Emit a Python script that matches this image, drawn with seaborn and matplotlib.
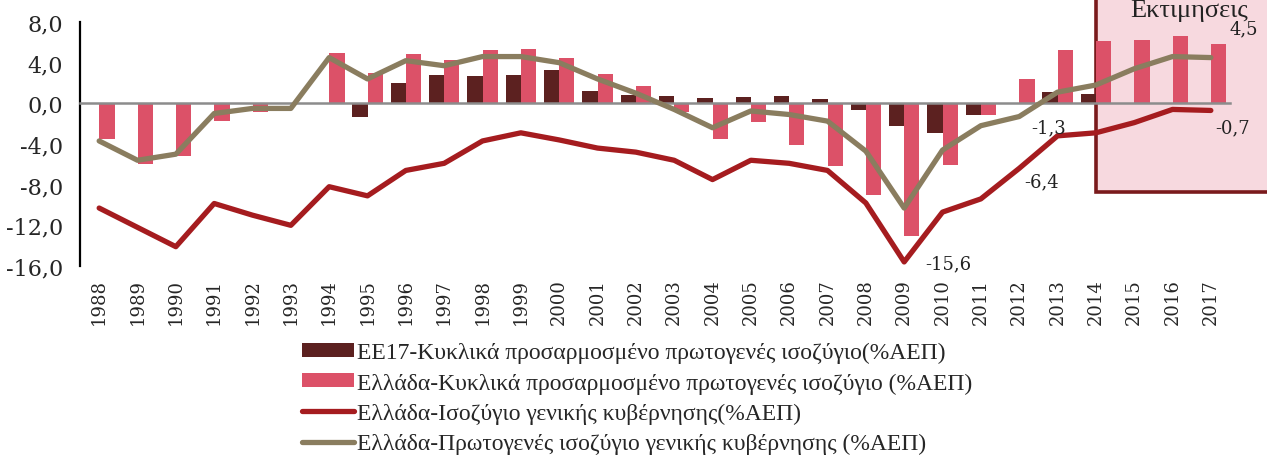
import numpy as np
import pandas as pd
import matplotlib
matplotlib.use("Agg")
import matplotlib.pyplot as plt
from matplotlib.patches import Rectangle
import seaborn as sns

years = list(range(1988, 2018))
year_labels = [str(y) for y in years]

eu17_capb = [np.nan, np.nan, np.nan, np.nan, np.nan, np.nan, np.nan,
             -1.35, 2.0, 2.8, 2.7, 2.75, 3.3, 1.2, 0.8, 0.7, 0.5, 0.6, 0.7, 0.45,
             -0.65, -2.25, -2.9, -1.15, -0.1, 1.1, 0.9, np.nan, np.nan, np.nan]
greece_capb = [-3.5, -6.0, -5.2, -1.75, -0.85, 0.0, 5.0, 3.0, 4.9, 4.3,
               5.25, 5.3, 4.45, 2.9, 1.7, -0.9, -3.5, -1.85, -4.05, -6.15,
               -9.0, -13.0, -6.05, -1.15, 2.4, 5.2, 6.1, 6.2, 6.6, 5.8]
greece_balance = [-10.3, -12.2, -14.1, -9.85, -11.0, -12.0, -8.2, -9.1, -6.6, -5.9,
                  -3.7, -2.9, -3.6, -4.4, -4.8, -5.6, -7.5, -5.6, -5.9, -6.6,
                  -9.8, -15.6, -10.7, -9.4, -6.4, -3.2, -2.9, -1.9, -0.6, -0.7]
greece_primary = [-3.7, -5.6, -5.0, -1.0, -0.5, -0.5, 4.5, 2.4, 4.2, 3.7,
                  4.6, 4.6, 4.0, 2.4, 1.0, -0.6, -2.4, -0.75, -1.1, -1.75,
                  -4.7, -10.3, -4.6, -2.2, -1.3, 1.1, 1.8, 3.4, 4.6, 4.5]

series_names = ["ΕΕ17-Κυκλικά προσαρμοσμένο πρωτογενές ισοζύγιο(%ΑΕΠ)",
                "Ελλάδα-Κυκλικά προσαρμοσμένο πρωτογενές ισοζύγιο (%ΑΕΠ)",
                "Ελλάδα-Ισοζύγιο γενικής κυβέρνησης(%ΑΕΠ)",
                "Ελλάδα-Πρωτογενές ισοζύγιο γενικής κυβέρνησης (%ΑΕΠ)"]
yticks = [-16, -12, -8, -4, 0, 4, 8]
ytick_labels = ["-16,0", "-12,0", "-8,0", "-4,0", "0,0", "4,0", "8,0"]
estimate_label = "Εκτιμησεις"
estimate_start = 2014
estimate_bottom = -8.7
point_labels = [  # (series, year, text, dx_pt, dy_pt)
    ("bal", 2009, "-15,6", 32, -1),
    ("bal", 2012, "-6,4", 16, -9),
    ("pri", 2012, "-1,3", 21, -8),
    ("bal", 2017, "-0,7", 16, -12),
    ("pri", 2017, "4,5", 24, 21),
]

c_dark = "#5c2120"
c_pink = "#dc5168"
c_red = "#a51c1f"
c_olive = "#8a7d5f"
c_box_fill = "#f7d9df"
c_box_edge = "#7a1a1c"

sns.set_style("white")
plt.rcParams["font.family"] = ["Liberation Serif", "DejaVu Serif"]

fig = plt.figure(figsize=(12.67, 4.56), dpi=100)
ax = fig.add_axes([80 / 1267, 1 - 267 / 456, 1150 / 1267, 244 / 456])

df = pd.DataFrame({
    "year": year_labels * 2,
    "series": [series_names[0]] * len(years) + [series_names[1]] * len(years),
    "value": list(eu17_capb) + list(greece_capb),
})
sns.barplot(data=df, x="year", y="value", hue="series", order=year_labels,
            hue_order=series_names[:2], palette=[c_dark, c_pink], width=0.8,
            saturation=1, errorbar=None, ax=ax, zorder=2, linewidth=0)

xpos = np.arange(len(years))
sns.lineplot(x=xpos, y=greece_balance, color=c_red, linewidth=3.8, sort=False,
             estimator=None, ax=ax, label=series_names[2], zorder=4,
             solid_capstyle="round")
sns.lineplot(x=xpos, y=greece_primary, color=c_olive, linewidth=3.8, sort=False,
             estimator=None, ax=ax, label=series_names[3], zorder=5,
             solid_capstyle="round")

handles, labels = ax.get_legend_handles_labels()
if ax.get_legend() is not None:
    ax.get_legend().remove()

# estimates box
i0 = years.index(estimate_start)
box = Rectangle((i0, estimate_bottom), 10, 30, facecolor=c_box_fill,
                edgecolor=c_box_edge, linewidth=2.6, zorder=0.5, clip_on=False)
ax.add_patch(box)
ax.text(i0 + 2.43, 8.62, estimate_label, fontsize=19, ha="center", va="baseline",
        color="#222222", clip_on=False, zorder=6)

# point labels
series_map = {"bal": greece_balance, "pri": greece_primary}
for key, yr, txt, dx, dy in point_labels:
    i = years.index(yr)
    ax.annotate(txt, (i, series_map[key][i]), xytext=(dx, dy),
                textcoords="offset points", ha="center", va="center",
                fontsize=13, family=["DejaVu Serif"], color="#222222",
                annotation_clip=False, zorder=6)

ax.set_xlim(-0.5, len(years) - 0.5)
ax.set_ylim(-16, 8)
ax.set_yticks(yticks)
ax.set_yticklabels(ytick_labels, fontsize=16, family=["DejaVu Serif"])
ax.tick_params(axis="y", length=0, pad=12)
ax.set_xlabel("")
ax.set_ylabel("")

ax.spines["top"].set_visible(False)
ax.spines["right"].set_visible(False)
ax.spines["left"].set_color("black")
ax.spines["left"].set_linewidth(1.6)
ax.spines["bottom"].set_position(("data", 0))
ax.spines["bottom"].set_color("#8c8c8c")
ax.spines["bottom"].set_linewidth(1.8)
ax.spines["bottom"].set_zorder(3)

ax.set_xticks(xpos)
ax.set_xticklabels(year_labels, rotation=90, fontsize=13, family=["DejaVu Serif"])
ax.set_xticks(np.arange(len(years) + 1) - 0.5, minor=True)
ax.tick_params(axis="x", which="major", length=0, pad=126)
ax.tick_params(axis="x", which="minor", length=5, width=1.6, color="#8c8c8c",
               direction="out")
ax.set_facecolor("white")

leg = fig.legend(handles, labels, loc="upper left",
                 bbox_to_anchor=(302 / 1267, 1 - 343 / 456),
                 frameon=False, fontsize=17, borderpad=0, borderaxespad=0,
                 handlelength=2.2, handleheight=0.55, handletextpad=0.15,
                 labelspacing=0.39)

fig.savefig("out.png", dpi=100)
